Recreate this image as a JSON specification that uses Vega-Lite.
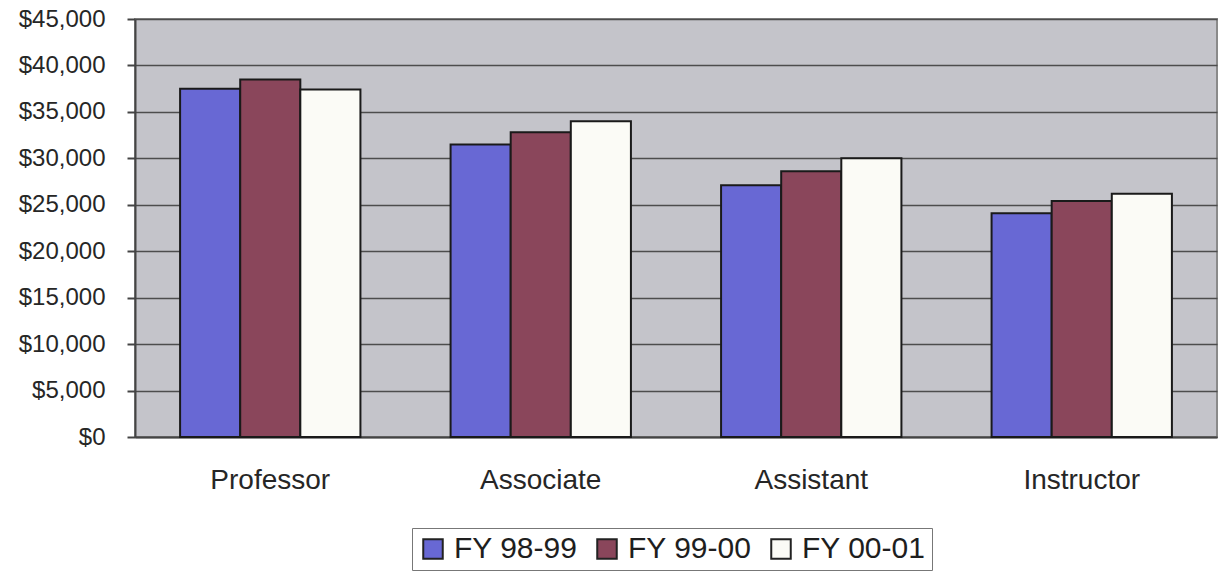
{
  "$schema": "https://vega.github.io/schema/vega-lite/v6.json",
  "width": 1082,
  "height": 418,
  "autosize": {"type": "none"},
  "padding": {"left": 135, "top": 19, "right": 8, "bottom": 136},
  "background": "#ffffff",
  "data": {
    "values": [
      {"rank": "Professor", "year": "FY 98-99", "salary": 37500},
      {"rank": "Professor", "year": "FY 99-00", "salary": 38500},
      {"rank": "Professor", "year": "FY 00-01", "salary": 37400},
      {"rank": "Associate", "year": "FY 98-99", "salary": 31500},
      {"rank": "Associate", "year": "FY 99-00", "salary": 32800},
      {"rank": "Associate", "year": "FY 00-01", "salary": 34000},
      {"rank": "Assistant", "year": "FY 98-99", "salary": 27100},
      {"rank": "Assistant", "year": "FY 99-00", "salary": 28600},
      {"rank": "Assistant", "year": "FY 00-01", "salary": 30000},
      {"rank": "Instructor", "year": "FY 98-99", "salary": 24100},
      {"rank": "Instructor", "year": "FY 99-00", "salary": 25400},
      {"rank": "Instructor", "year": "FY 00-01", "salary": 26200}
    ]
  },
  "mark": {"type": "bar", "stroke": "#1a1a1a", "strokeWidth": 2},
  "encoding": {
    "x": {
      "field": "rank",
      "type": "nominal",
      "sort": ["Professor", "Associate", "Assistant", "Instructor"],
      "scale": {"paddingInner": 0.3333, "paddingOuter": 0.1667},
      "axis": {
        "title": null,
        "labelAngle": 0,
        "ticks": false,
        "labelPadding": 29,
        "labelFont": "Liberation Sans",
        "labelFontSize": 28,
        "labelColor": "#262626",
        "domainColor": "#444444",
        "domainWidth": 2
      }
    },
    "xOffset": {
      "field": "year",
      "type": "nominal",
      "sort": ["FY 98-99", "FY 99-00", "FY 00-01"],
      "scale": {"paddingInner": 0, "paddingOuter": 0}
    },
    "y": {
      "field": "salary",
      "type": "quantitative",
      "scale": {"domain": [0, 45000], "nice": false},
      "axis": {
        "title": null,
        "values": [0, 5000, 10000, 15000, 20000, 25000, 30000, 35000, 40000, 45000],
        "format": "$,.0f",
        "tickSize": 8,
        "tickColor": "#444444",
        "tickWidth": 2,
        "labelPadding": 22,
        "labelFont": "Liberation Sans",
        "labelFontSize": 24,
        "labelColor": "#262626",
        "domainColor": "#444444",
        "domainWidth": 2,
        "gridColor": "#4d4d4d",
        "gridWidth": 1.5
      }
    },
    "color": {
      "field": "year",
      "type": "nominal",
      "scale": {
        "domain": ["FY 98-99", "FY 99-00", "FY 00-01"],
        "range": ["#6868d4", "#8a465b", "#fbfbf6"]
      },
      "legend": {
        "title": null,
        "orient": "none",
        "legendX": 277,
        "legendY": 509,
        "direction": "horizontal",
        "symbolType": "square",
        "symbolSize": 380,
        "symbolStrokeColor": "#222222",
        "symbolStrokeWidth": 2,
        "labelFont": "Liberation Sans",
        "labelFontSize": 30,
        "labelColor": "#1e1e1e",
        "strokeColor": "#777777",
        "padding": 6,
        "columnPadding": 14,
        "labelOffset": 6
      }
    }
  },
  "config": {
    "view": {"fill": "#c4c4ca", "stroke": "#8a8a8a", "strokeWidth": 2}
  }
}
